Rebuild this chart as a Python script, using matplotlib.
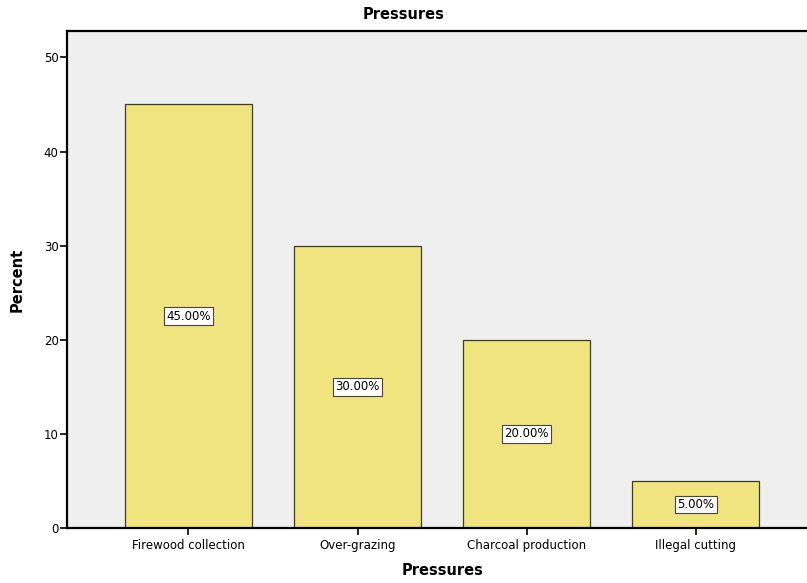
import numpy as np
from matplotlib import pyplot as plt

categories = ["Firewood collection", "Over-grazing", "Charcoal production", "Illegal cutting"]
percent = [45.0, 30.0, 20.0, 5.0]
yticks = [0, 10, 20, 30, 40, 50]

fig = plt.figure(figsize=(8.07, 5.83), dpi=100)
ax = fig.add_axes([0.083, 0.0943, 0.93, 0.8525])
ax.set_facecolor("#efefef")

x = np.arange(len(categories))
ax.bar(x, percent, width=0.754, color="#f0e47e", edgecolor="#3c3c28", linewidth=0.9, zorder=2)

for xi, v in zip(x, percent):
    ax.text(xi, v / 2, f"{v:.2f}%", ha="center", va="center", fontsize=8.5,
            bbox=dict(boxstyle="square,pad=0.2", fc="white", ec="#444444", lw=0.8), zorder=3)

ax.set_xlim(-0.718, 3.72)
ax.set_ylim(0, 52.8)
ax.set_xticks(x)
ax.set_xticklabels(categories, fontsize=8.5)
ax.set_yticks(yticks)
ax.tick_params(axis="y", labelsize=8.5, length=5, width=1.2, pad=1)
ax.tick_params(axis="x", length=5, width=1.2, pad=3)

for s in ax.spines.values():
    s.set_linewidth(1.6)
    s.set_color("black")

ax.set_xlabel("Pressures", fontsize=10.5, fontweight="bold", labelpad=8)
ax.set_ylabel("Percent", fontsize=10.5, fontweight="bold", labelpad=14)
fig.text(0.5, 0.975, "Pressures", ha="center", va="center", fontsize=10.5, fontweight="bold")

fig.savefig("out.png", dpi=100)
